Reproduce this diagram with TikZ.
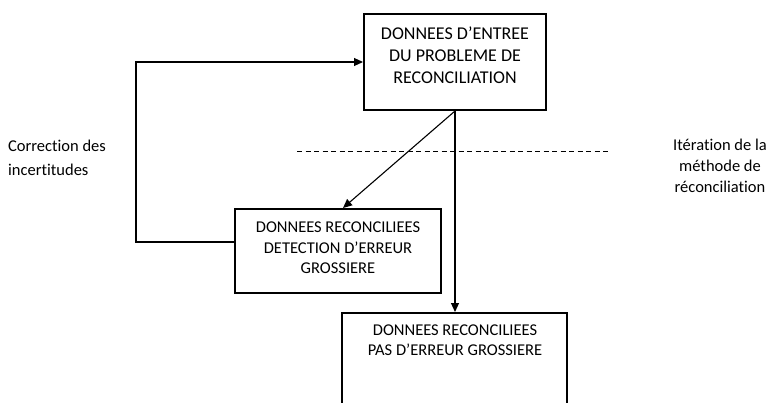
\documentclass[tikz,border=0pt]{standalone}
\usepackage{fontspec}
\setmainfont[Ligatures=NoCommon]{Carlito}
\usetikzlibrary{arrows.meta,calc}
\begin{document}
\begin{tikzpicture}[x=1pt,y=-1pt,
  box/.style={draw, line width=2pt, inner sep=0pt},
  txt/.style={align=center, inner sep=0pt, font=\fontsize{16.5}{20.5}\selectfont},
  bigtxt/.style={align=center, inner sep=0pt, font=\fontsize{18}{22}\selectfont},
  lbl/.style={inner sep=0pt, font=\fontsize{16.5}{24}\selectfont},
  rlbl/.style={align=center, inner sep=0pt, font=\fontsize{16.5}{21}\selectfont},
  conn/.style={line width=1.1pt, -{Triangle[length=9pt,width=8pt]}},
  dash line/.style={line width=0.9pt, dash pattern=on 5pt off 3.5pt},
  ]
\useasboundingbox (0,0) rectangle (775,403);
\clip (0,0) rectangle (775,403);
% boxes
\node[box, minimum width=182pt, minimum height=96pt] (top) at (455,62) {};
\node[bigtxt] (toptxt) at (455,55) {DONNEES D’ENTREE\\DU PROBLEME DE\\RECONCILIATION};
\node[box, minimum width=206pt, minimum height=84pt] (mid) at (338,251) {};
\node[txt] (midtxt) at (338,248) {DONNEES RECONCILIEES\\DETECTION D’ERREUR\\GROSSIERE};
\node[box, minimum width=225pt, minimum height=120pt, anchor=north] (bot) at (454.5,312) {};
\node[txt] (bottxt) at (455,340) {DONNEES RECONCILIEES\\PAS D’ERREUR GROSSIERE};
% labels
\node[lbl, align=left, anchor=west] (corr) at (8,158) {Correction des\\incertitudes};
\node[rlbl] (iter) at (720,166) {Itération de la\\méthode de\\réconciliation};
% dashed line
\coordinate (d1) at (297,151);
\coordinate (d2) at (608,151);
\draw[dash line] (d1) -- (d2);
% connectors
\draw[conn] (top.south) -- ($(mid.north)+(5,0)$);
\draw[conn] (top.south) -- (top.south |- bot.north);
\draw[conn] ($(mid.west)+(0,-9)$) -- ++(-98,0) |- (top.west);
\end{tikzpicture}
\end{document}
